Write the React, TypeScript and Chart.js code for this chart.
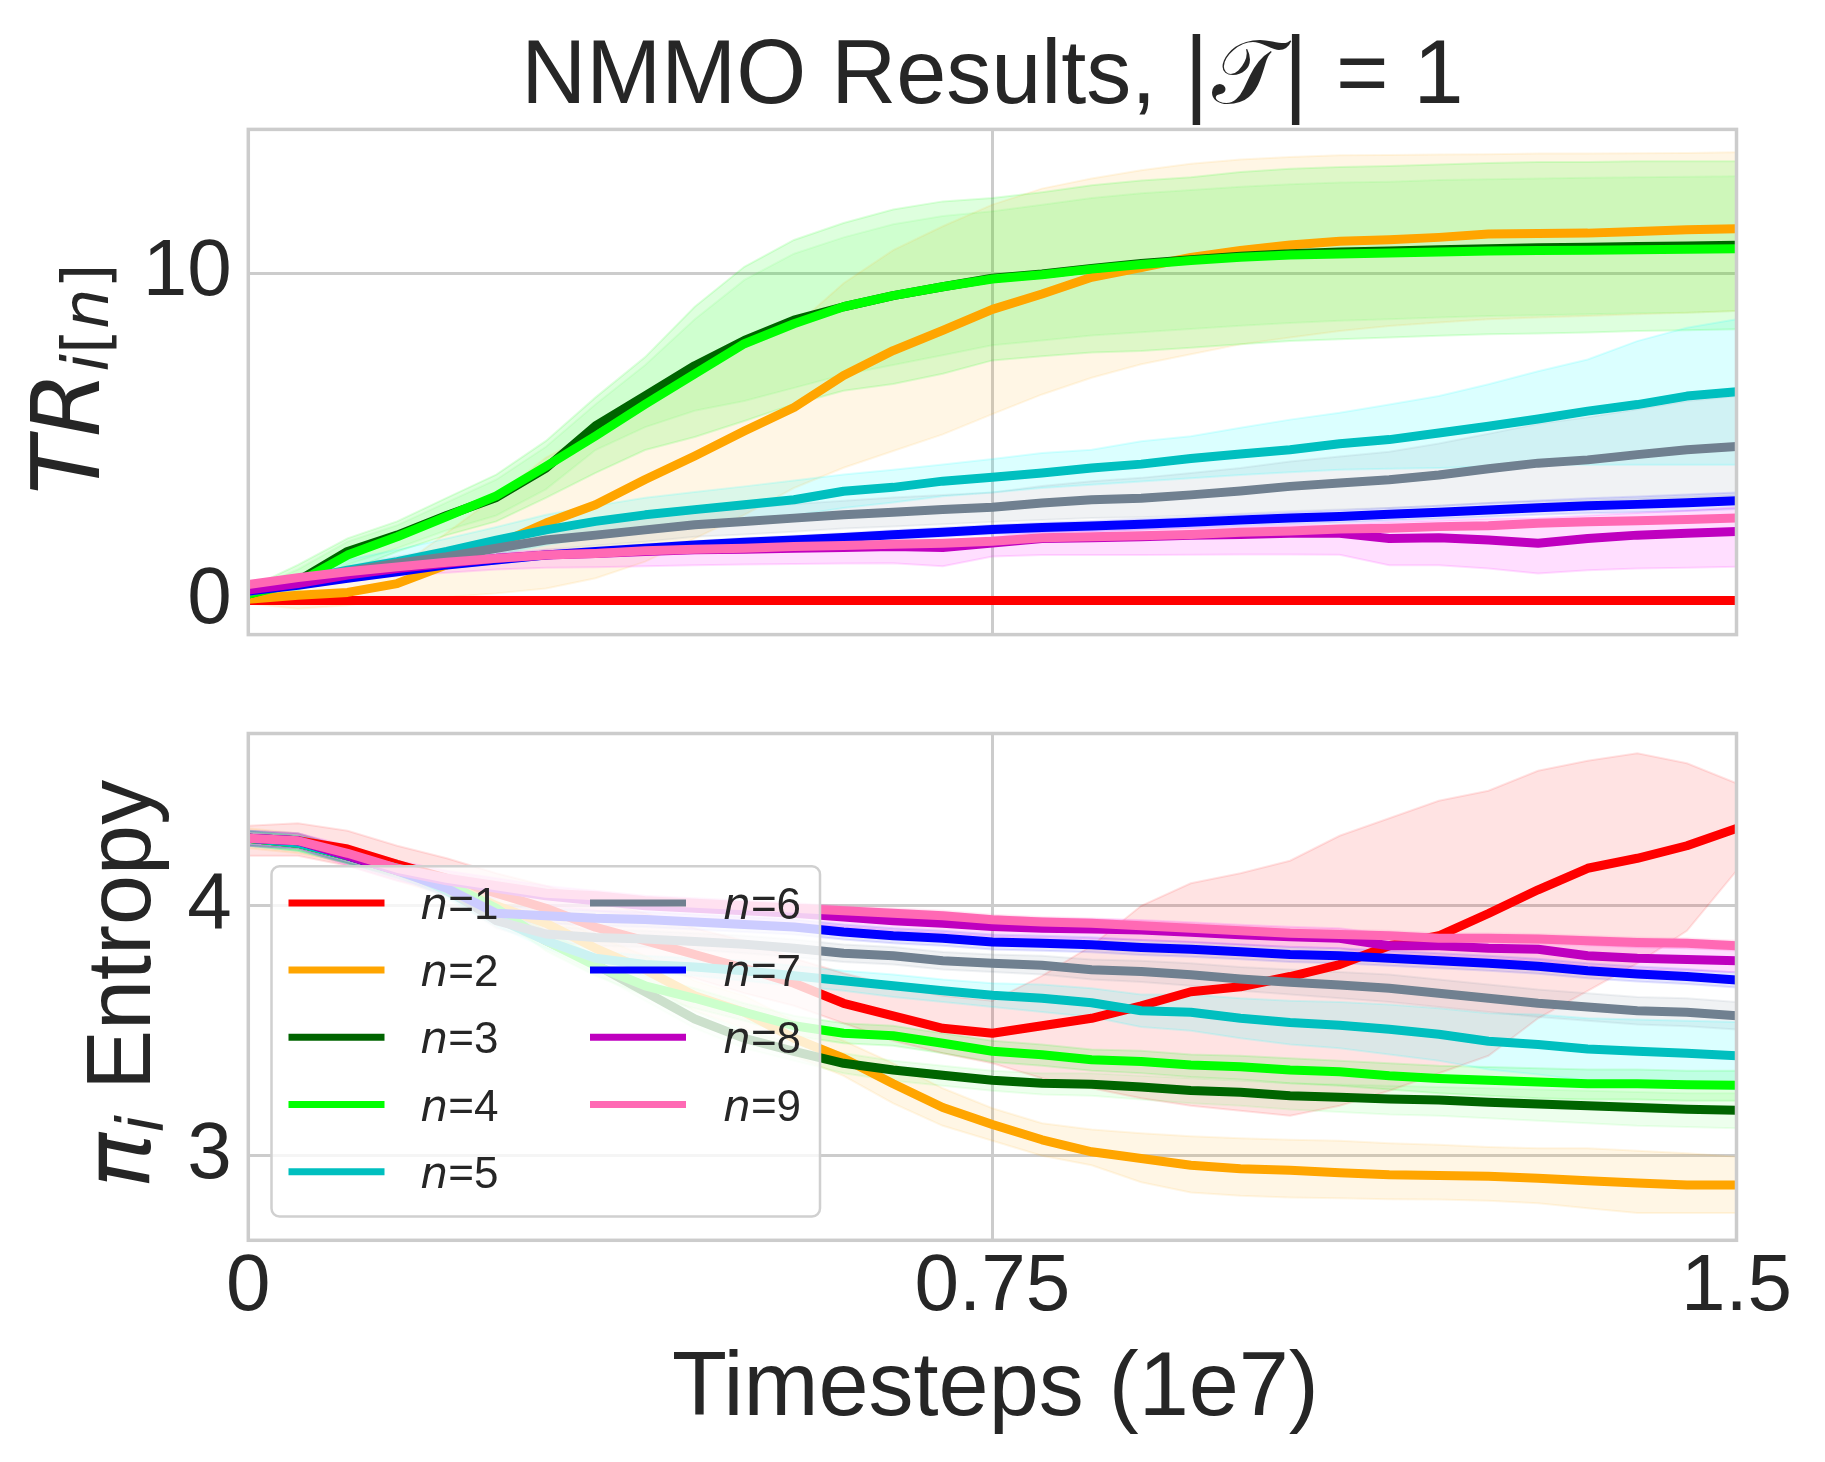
import React, { useEffect, useRef } from "react";
import { Chart, registerables } from "chart.js";

Chart.register(...registerables);

// ---------------- data ----------------
const timesteps = [0, 0.05, 0.1, 0.15, 0.2, 0.25, 0.3, 0.35, 0.4, 0.45, 0.5, 0.55, 0.6, 0.65, 0.7, 0.75, 0.8, 0.85, 0.9, 0.95, 1.0, 1.05, 1.1, 1.15, 1.2, 1.25, 1.3, 1.35, 1.4, 1.45, 1.5];
const seriesNames = ["n=1", "n=2", "n=3", "n=4", "n=5", "n=6", "n=7", "n=8", "n=9"];
const xTicks = [0, 0.75, 1.5];
const xTickLabels = ["0", "0.75", "1.5"];
const trTicks = [0, 10];
const trTickLabels = ["0", "10"];
const entTicks = [3, 4];
const entTickLabels = ["3", "4"];

// Top panel: task reward TR_i[n]
const tr1 = [0, 0, 0, 0, 0, 0, 0, 0, 0, 0, 0, 0, 0, 0, 0, 0, 0, 0, 0, 0, 0, 0, 0, 0, 0, 0, 0, 0, 0, 0, 0];
const tr2 = [0.04, 0.16, 0.25, 0.52, 1.09, 1.7, 2.37, 2.93, 3.7, 4.42, 5.18, 5.9, 6.88, 7.64, 8.26, 8.9, 9.37, 9.88, 10.18, 10.49, 10.7, 10.87, 10.98, 11.03, 11.1, 11.2, 11.22, 11.23, 11.28, 11.33, 11.36];
const tr3 = [0.2, 0.6, 1.5, 2.0, 2.6, 3.15, 4.05, 5.34, 6.26, 7.18, 7.95, 8.57, 8.98, 9.32, 9.59, 9.85, 9.98, 10.15, 10.3, 10.42, 10.52, 10.6, 10.65, 10.68, 10.72, 10.75, 10.78, 10.8, 10.82, 10.84, 10.86];
const tr4 = [0.2, 0.55, 1.39, 1.95, 2.57, 3.2, 4.1, 5.03, 6.0, 6.93, 7.85, 8.46, 8.98, 9.32, 9.59, 9.83, 9.96, 10.13, 10.27, 10.39, 10.49, 10.56, 10.59, 10.62, 10.65, 10.68, 10.7, 10.71, 10.72, 10.74, 10.75];
const tr5 = [0.3, 0.62, 0.93, 1.19, 1.5, 1.85, 2.16, 2.42, 2.62, 2.78, 2.93, 3.08, 3.34, 3.46, 3.65, 3.77, 3.9, 4.05, 4.17, 4.34, 4.48, 4.61, 4.79, 4.92, 5.12, 5.33, 5.55, 5.79, 5.99, 6.25, 6.38];
const tr6 = [0.27, 0.57, 0.88, 1.14, 1.34, 1.6, 1.85, 2.0, 2.16, 2.32, 2.42, 2.52, 2.62, 2.7, 2.78, 2.85, 2.98, 3.08, 3.13, 3.23, 3.35, 3.49, 3.59, 3.69, 3.84, 4.03, 4.2, 4.3, 4.46, 4.61, 4.71];
const tr7 = [0.29, 0.47, 0.68, 0.88, 1.09, 1.24, 1.39, 1.5, 1.6, 1.7, 1.78, 1.85, 1.93, 2.01, 2.09, 2.17, 2.23, 2.28, 2.33, 2.39, 2.46, 2.52, 2.57, 2.64, 2.7, 2.77, 2.84, 2.9, 2.94, 2.99, 3.05];
const tr8 = [0.32, 0.52, 0.78, 0.98, 1.14, 1.29, 1.39, 1.44, 1.5, 1.55, 1.57, 1.6, 1.62, 1.65, 1.62, 1.76, 1.9, 1.92, 1.95, 2.0, 2.02, 2.06, 2.06, 1.9, 1.92, 1.85, 1.75, 1.9, 2.0, 2.06, 2.11];
const tr9 = [0.49, 0.7, 0.88, 1.03, 1.17, 1.29, 1.39, 1.44, 1.52, 1.57, 1.6, 1.65, 1.68, 1.72, 1.75, 1.81, 1.92, 1.95, 1.98, 2.02, 2.09, 2.13, 2.19, 2.21, 2.26, 2.29, 2.36, 2.41, 2.44, 2.48, 2.52];

const tr2Upper = [0.17, 0.57, 0.64, 0.98, 2.07, 3.18, 4.37, 5.18, 6.21, 6.94, 7.74, 8.36, 9.7, 10.71, 11.44, 12.1, 12.59, 12.9, 13.15, 13.35, 13.48, 13.56, 13.61, 13.62, 13.63, 13.64, 13.66, 13.66, 13.67, 13.68, 13.7];
const tr2Lower = [-0.09, -0.25, -0.14, 0.06, 0.11, 0.22, 0.37, 0.68, 1.19, 1.9, 2.62, 3.44, 4.06, 4.57, 5.08, 5.7, 6.3, 6.81, 7.22, 7.53, 7.83, 8.04, 8.24, 8.39, 8.5, 8.6, 8.65, 8.7, 8.75, 8.8, 8.85];
const tr3Upper = [0.3, 0.95, 1.8, 2.3, 3.0, 3.7, 4.7, 6.0, 7.2, 8.6, 9.8, 10.6, 11.1, 11.5, 11.75, 11.9, 12.1, 12.3, 12.45, 12.55, 12.65, 12.72, 12.78, 12.8, 12.85, 12.88, 12.9, 12.92, 12.94, 12.95, 12.97];
const tr3Lower = [0.1, 0.35, 1.1, 1.6, 2.15, 2.6, 3.4, 4.6, 5.3, 5.8, 6.1, 6.5, 6.9, 7.2, 7.5, 7.8, 7.95, 8.1, 8.2, 8.3, 8.4, 8.48, 8.55, 8.6, 8.65, 8.7, 8.72, 8.75, 8.78, 8.8, 8.85];
const tr4Upper = [0.37, 1.09, 1.9, 2.42, 3.14, 3.85, 4.88, 6.21, 7.44, 8.98, 10.2, 11.02, 11.54, 11.95, 12.2, 12.3, 12.48, 12.69, 12.84, 12.94, 13.1, 13.2, 13.25, 13.28, 13.33, 13.37, 13.4, 13.4, 13.43, 13.43, 13.43];
const tr4Lower = [0.1, 0.3, 0.9, 1.5, 2.0, 2.42, 3.14, 3.9, 4.6, 5.0, 5.49, 6.0, 6.41, 6.62, 6.93, 7.34, 7.47, 7.58, 7.63, 7.73, 7.83, 7.93, 7.99, 8.04, 8.09, 8.14, 8.16, 8.19, 8.24, 8.26, 8.29];
const tr5Upper = [0.5, 0.8, 1.25, 1.55, 1.9, 2.25, 2.62, 2.9, 3.14, 3.32, 3.49, 3.67, 3.85, 4.0, 4.16, 4.33, 4.51, 4.61, 4.87, 5.02, 5.28, 5.53, 5.74, 5.99, 6.25, 6.61, 7.01, 7.37, 7.93, 8.34, 8.6];
const tr5Lower = [0.15, 0.4, 0.6, 0.85, 1.09, 1.4, 1.7, 1.95, 2.11, 2.26, 2.42, 2.6, 2.83, 3.0, 3.19, 3.3, 3.44, 3.54, 3.64, 3.74, 3.84, 3.92, 4.0, 4.03, 4.05, 4.1, 4.15, 4.15, 4.15, 4.15, 4.15];
const tr6Upper = [0.35, 0.7, 1.05, 1.35, 1.6, 1.9, 2.15, 2.35, 2.55, 2.7, 2.82, 2.95, 3.05, 3.15, 3.23, 3.3, 3.5, 3.65, 3.75, 3.9, 4.05, 4.25, 4.4, 4.55, 4.8, 5.1, 5.4, 5.6, 5.85, 6.1, 6.25];
const tr6Lower = [0.2, 0.45, 0.72, 0.95, 1.1, 1.32, 1.55, 1.68, 1.8, 1.95, 2.02, 2.1, 2.2, 2.26, 2.33, 2.4, 2.46, 2.52, 2.55, 2.6, 2.65, 2.73, 2.78, 2.83, 2.9, 2.98, 3.02, 3.05, 3.1, 3.15, 3.2];
const tr7Upper = [0.36, 0.56, 0.78, 0.98, 1.19, 1.35, 1.5, 1.62, 1.72, 1.82, 1.91, 1.98, 2.06, 2.15, 2.23, 2.31, 2.38, 2.43, 2.49, 2.55, 2.63, 2.7, 2.76, 2.83, 2.9, 2.98, 3.06, 3.13, 3.18, 3.24, 3.3];
const tr7Lower = [0.22, 0.38, 0.58, 0.78, 0.99, 1.13, 1.28, 1.38, 1.48, 1.58, 1.65, 1.72, 1.8, 1.87, 1.95, 2.03, 2.08, 2.13, 2.17, 2.23, 2.29, 2.34, 2.38, 2.45, 2.5, 2.56, 2.62, 2.67, 2.7, 2.74, 2.8];
const tr8Upper = [0.4, 0.62, 0.9, 1.12, 1.3, 1.45, 1.55, 1.6, 1.65, 1.7, 1.72, 1.75, 1.78, 1.8, 1.82, 1.95, 2.1, 2.13, 2.17, 2.22, 2.25, 2.3, 2.32, 2.4, 2.45, 2.5, 2.52, 2.6, 2.68, 2.75, 2.85];
const tr8Lower = [0.25, 0.4, 0.6, 0.75, 0.85, 0.95, 1.0, 1.02, 1.05, 1.08, 1.1, 1.12, 1.13, 1.14, 1.05, 1.35, 1.39, 1.39, 1.39, 1.4, 1.41, 1.41, 1.4, 1.08, 1.08, 0.98, 0.83, 0.93, 0.98, 1.0, 1.03];
const tr9Upper = [0.57, 0.78, 0.96, 1.11, 1.25, 1.37, 1.47, 1.52, 1.6, 1.65, 1.68, 1.73, 1.76, 1.8, 1.83, 1.89, 2.0, 2.03, 2.06, 2.1, 2.17, 2.21, 2.27, 2.29, 2.34, 2.37, 2.44, 2.49, 2.52, 2.56, 2.6];
const tr9Lower = [0.41, 0.62, 0.8, 0.95, 1.09, 1.21, 1.31, 1.36, 1.44, 1.49, 1.52, 1.57, 1.6, 1.64, 1.67, 1.73, 1.84, 1.87, 1.9, 1.94, 2.01, 2.05, 2.11, 2.13, 2.18, 2.21, 2.28, 2.33, 2.36, 2.4, 2.44];

// Bottom panel: policy entropy
const ent1 = [4.27, 4.26, 4.227, 4.166, 4.11, 4.05, 3.99, 3.914, 3.86, 3.805, 3.75, 3.69, 3.61, 3.56, 3.51, 3.49, 3.52, 3.55, 3.6, 3.656, 3.676, 3.717, 3.765, 3.84, 3.88, 3.969, 4.064, 4.15, 4.19, 4.24, 4.309];
const ent2 = [4.27, 4.25, 4.2, 4.15, 4.09, 4.0, 3.93, 3.83, 3.744, 3.64, 3.574, 3.47, 3.39, 3.288, 3.193, 3.125, 3.064, 3.016, 2.989, 2.962, 2.948, 2.942, 2.932, 2.924, 2.921, 2.918, 2.91, 2.9, 2.891, 2.883, 2.883];
const ent3 = [4.27, 4.25, 4.2, 4.14, 4.08, 3.97, 3.86, 3.765, 3.656, 3.547, 3.47, 3.418, 3.37, 3.343, 3.322, 3.302, 3.29, 3.286, 3.275, 3.261, 3.254, 3.24, 3.234, 3.227, 3.223, 3.214, 3.207, 3.2, 3.193, 3.186, 3.182];
const ent4 = [4.27, 4.25, 4.2, 4.15, 4.09, 3.99, 3.86, 3.76, 3.68, 3.63, 3.574, 3.52, 3.49, 3.48, 3.45, 3.418, 3.404, 3.384, 3.377, 3.363, 3.356, 3.343, 3.336, 3.32, 3.309, 3.302, 3.295, 3.288, 3.288, 3.284, 3.282];
const ent5 = [4.27, 4.25, 4.2, 4.15, 4.06, 3.95, 3.86, 3.79, 3.765, 3.755, 3.74, 3.72, 3.7, 3.68, 3.66, 3.642, 3.63, 3.612, 3.58, 3.574, 3.55, 3.533, 3.522, 3.506, 3.486, 3.458, 3.445, 3.427, 3.418, 3.41, 3.4];
const ent6 = [4.27, 4.26, 4.2, 4.15, 4.07, 3.94, 3.887, 3.873, 3.867, 3.857, 3.846, 3.83, 3.81, 3.8, 3.78, 3.77, 3.762, 3.744, 3.737, 3.724, 3.707, 3.694, 3.683, 3.67, 3.65, 3.63, 3.61, 3.595, 3.58, 3.574, 3.56];
const ent7 = [4.27, 4.26, 4.2, 4.14, 4.07, 3.97, 3.96, 3.95, 3.945, 3.935, 3.925, 3.915, 3.895, 3.88, 3.87, 3.855, 3.85, 3.844, 3.833, 3.826, 3.816, 3.805, 3.8, 3.79, 3.78, 3.77, 3.758, 3.74, 3.727, 3.717, 3.703];
const ent8 = [4.27, 4.26, 4.2, 4.14, 4.1, 4.07, 4.04, 4.02, 4.0, 3.99, 3.98, 3.97, 3.955, 3.94, 3.93, 3.917, 3.91, 3.907, 3.903, 3.894, 3.884, 3.876, 3.87, 3.84, 3.84, 3.83, 3.826, 3.8, 3.79, 3.785, 3.78];
const ent9 = [4.27, 4.26, 4.21, 4.15, 4.11, 4.08, 4.05, 4.04, 4.02, 4.01, 4.0, 3.99, 3.98, 3.97, 3.96, 3.944, 3.935, 3.93, 3.92, 3.91, 3.9, 3.89, 3.885, 3.88, 3.87, 3.87, 3.867, 3.86, 3.853, 3.85, 3.84];

const ent1Upper = [4.32, 4.33, 4.3, 4.24, 4.19, 4.13, 4.08, 4.02, 3.97, 3.91, 3.86, 3.79, 3.73, 3.68, 3.64, 3.62, 3.72, 3.84, 4.0, 4.09, 4.13, 4.18, 4.28, 4.35, 4.42, 4.46, 4.54, 4.58, 4.61, 4.57, 4.49];
const ent1Lower = [4.2, 4.2, 4.16, 4.1, 4.04, 3.97, 3.9, 3.82, 3.76, 3.71, 3.65, 3.6, 3.53, 3.46, 3.41, 3.37, 3.31, 3.27, 3.23, 3.2, 3.18, 3.16, 3.2, 3.26, 3.33, 3.4, 3.55, 3.66, 3.77, 3.9, 4.14];
const ent2Upper = [4.31, 4.29, 4.23, 4.18, 4.12, 4.04, 3.97, 3.88, 3.8, 3.7, 3.64, 3.54, 3.46, 3.37, 3.27, 3.19, 3.13, 3.105, 3.09, 3.078, 3.07, 3.064, 3.06, 3.05, 3.044, 3.035, 3.03, 3.03, 3.02, 3.01, 2.996];
const ent2Lower = [4.23, 4.21, 4.17, 4.12, 4.06, 3.96, 3.89, 3.78, 3.69, 3.58, 3.51, 3.4, 3.32, 3.21, 3.12, 3.06, 3.0, 2.962, 2.894, 2.853, 2.84, 2.833, 2.83, 2.826, 2.825, 2.82, 2.81, 2.79, 2.771, 2.771, 2.771];
const ent3Upper = [4.3, 4.28, 4.23, 4.17, 4.11, 4.0, 3.89, 3.8, 3.69, 3.58, 3.5, 3.45, 3.41, 3.38, 3.36, 3.34, 3.33, 3.33, 3.32, 3.31, 3.3, 3.29, 3.285, 3.28, 3.275, 3.27, 3.265, 3.26, 3.255, 3.25, 3.25];
const ent3Lower = [4.24, 4.22, 4.17, 4.11, 4.05, 3.94, 3.83, 3.73, 3.62, 3.51, 3.43, 3.38, 3.33, 3.3, 3.28, 3.26, 3.245, 3.24, 3.225, 3.21, 3.2, 3.185, 3.175, 3.165, 3.16, 3.15, 3.14, 3.13, 3.12, 3.115, 3.11];
const ent4Upper = [4.3, 4.28, 4.23, 4.18, 4.12, 4.02, 3.9, 3.8, 3.72, 3.67, 3.61, 3.56, 3.53, 3.52, 3.49, 3.46, 3.445, 3.425, 3.42, 3.405, 3.4, 3.39, 3.38, 3.37, 3.36, 3.355, 3.35, 3.345, 3.345, 3.34, 3.34];
const ent4Lower = [4.24, 4.22, 4.17, 4.12, 4.06, 3.96, 3.82, 3.72, 3.64, 3.59, 3.54, 3.48, 3.45, 3.44, 3.41, 3.375, 3.36, 3.34, 3.33, 3.315, 3.305, 3.29, 3.28, 3.265, 3.25, 3.24, 3.23, 3.225, 3.225, 3.22, 3.22];
const ent5Upper = [4.3, 4.28, 4.23, 4.18, 4.09, 3.98, 3.89, 3.82, 3.8, 3.79, 3.78, 3.76, 3.74, 3.725, 3.705, 3.69, 3.685, 3.67, 3.645, 3.645, 3.63, 3.62, 3.615, 3.605, 3.59, 3.57, 3.565, 3.55, 3.545, 3.54, 3.535];
const ent5Lower = [4.24, 4.22, 4.17, 4.12, 4.03, 3.92, 3.83, 3.76, 3.73, 3.72, 3.7, 3.68, 3.66, 3.635, 3.615, 3.595, 3.575, 3.555, 3.515, 3.5, 3.47, 3.445, 3.43, 3.405, 3.38, 3.345, 3.325, 3.3, 3.29, 3.28, 3.265];
const ent6Upper = [4.3, 4.29, 4.23, 4.18, 4.1, 3.97, 3.92, 3.905, 3.9, 3.89, 3.88, 3.865, 3.845, 3.835, 3.815, 3.805, 3.8, 3.785, 3.78, 3.77, 3.755, 3.745, 3.735, 3.725, 3.705, 3.685, 3.665, 3.65, 3.635, 3.63, 3.615];
const ent6Lower = [4.24, 4.23, 4.17, 4.12, 4.04, 3.91, 3.855, 3.84, 3.835, 3.825, 3.81, 3.795, 3.775, 3.765, 3.745, 3.735, 3.725, 3.705, 3.695, 3.68, 3.66, 3.645, 3.63, 3.615, 3.595, 3.575, 3.555, 3.54, 3.525, 3.518, 3.505];
const ent7Upper = [4.3, 4.29, 4.23, 4.17, 4.1, 4.0, 3.99, 3.98, 3.975, 3.965, 3.955, 3.945, 3.925, 3.91, 3.9, 3.885, 3.88, 3.874, 3.863, 3.856, 3.846, 3.835, 3.83, 3.82, 3.81, 3.8, 3.788, 3.77, 3.757, 3.747, 3.733];
const ent7Lower = [4.24, 4.23, 4.17, 4.11, 4.04, 3.94, 3.93, 3.92, 3.915, 3.905, 3.895, 3.885, 3.865, 3.85, 3.84, 3.825, 3.82, 3.814, 3.803, 3.796, 3.786, 3.775, 3.77, 3.76, 3.75, 3.74, 3.728, 3.71, 3.697, 3.687, 3.673];
const ent8Upper = [4.3, 4.29, 4.24, 4.18, 4.14, 4.11, 4.08, 4.06, 4.04, 4.03, 4.02, 4.01, 3.995, 3.98, 3.97, 3.957, 3.95, 3.947, 3.943, 3.934, 3.924, 3.916, 3.91, 3.885, 3.885, 3.875, 3.871, 3.845, 3.835, 3.83, 3.825];
const ent8Lower = [4.24, 4.23, 4.16, 4.1, 4.06, 4.03, 4.0, 3.98, 3.96, 3.95, 3.94, 3.93, 3.915, 3.9, 3.89, 3.877, 3.87, 3.867, 3.863, 3.854, 3.844, 3.836, 3.83, 3.795, 3.795, 3.785, 3.781, 3.755, 3.745, 3.74, 3.735];
const ent9Upper = [4.29, 4.28, 4.23, 4.17, 4.13, 4.1, 4.07, 4.06, 4.04, 4.03, 4.02, 4.01, 4.0, 3.99, 3.98, 3.964, 3.955, 3.95, 3.94, 3.93, 3.92, 3.91, 3.905, 3.9, 3.89, 3.89, 3.887, 3.88, 3.873, 3.87, 3.86];
const ent9Lower = [4.25, 4.24, 4.19, 4.13, 4.09, 4.06, 4.03, 4.02, 4.0, 3.99, 3.98, 3.97, 3.96, 3.95, 3.94, 3.924, 3.915, 3.91, 3.9, 3.89, 3.88, 3.87, 3.865, 3.86, 3.85, 3.85, 3.847, 3.84, 3.833, 3.83, 3.82];

// ---------------- style ----------------
const LINE_COLORS = ["#ff0000", "#ffa500", "#006400", "#00ff00", "#00bfbf", "#708090", "#0000ff", "#bf00bf", "#ff69b4"];
const BAND_COLORS = [
  "rgba(255,0,0,0.11)",
  "rgba(255,165,0,0.10)",
  "rgba(0,255,0,0.07)",
  "rgba(0,255,0,0.13)",
  "rgba(0,255,255,0.14)",
  "rgba(112,128,144,0.10)",
  "rgba(0,0,255,0.10)",
  "rgba(255,0,255,0.13)",
  "rgba(255,105,180,0.12)",
];
const FONT = "'Liberation Sans', Arial, sans-serif";
const MATH = "'DejaVu Sans', sans-serif";
const TEXT = "#262626";
const GRID = "#cccccc";
const LINE_W = 9;

const W = 1825;
const TOP_H = 690;
const BOT_H = 772;
const AREA_LEFT = 248.3;
const AREA_RIGHT = 1736.5;

function pts(arr: number[]) {
  return arr.map((y, i) => ({ x: timesteps[i], y }));
}

function buildDatasets(means: number[][], uppers: (number[] | null)[], lowers: (number[] | null)[]) {
  const ds: any[] = [];
  means.forEach((_m, i) => {
    const up = uppers[i];
    const lo = lowers[i];
    if (up && lo) {
      ds.push({
        data: pts(up), fill: "+1", backgroundColor: BAND_COLORS[i], borderColor: BAND_COLORS[i],
        borderWidth: 2, pointRadius: 0, order: 200 - i, isBand: true,
      });
      ds.push({
        data: pts(lo), fill: false, backgroundColor: BAND_COLORS[i], borderColor: BAND_COLORS[i],
        borderWidth: 2, pointRadius: 0, order: 200 - i, isBand: true,
      });
    }
  });
  means.forEach((m, i) => {
    ds.push({
      label: seriesNames[i], data: pts(m), borderColor: LINE_COLORS[i], backgroundColor: LINE_COLORS[i],
      borderWidth: LINE_W, pointRadius: 0, fill: false, order: 20 - i, isSeries: true,
      borderJoinStyle: "round",
    });
  });
  return ds;
}

function drawRuns(ctx: CanvasRenderingContext2D, runs: { text: string; font: string; dy?: number }[], cx: number, y: number) {
  let total = 0;
  for (const r of runs) {
    ctx.font = r.font;
    total += ctx.measureText(r.text).width;
  }
  let x = cx - total / 2;
  ctx.textAlign = "left";
  ctx.textBaseline = "alphabetic";
  for (const r of runs) {
    ctx.font = r.font;
    ctx.fillText(r.text, x, y + (r.dy || 0));
    x += ctx.measureText(r.text).width;
  }
}

const framePlugin = {
  id: "frame",
  afterDatasetsDraw(chart: any) {
    const { ctx, chartArea: a } = chart;
    ctx.save();
    ctx.strokeStyle = GRID;
    ctx.lineWidth = 3.5;
    ctx.strokeRect(a.left, a.top, a.right - a.left, a.bottom - a.top);
    ctx.restore();
  },
};

const topTextPlugin = {
  id: "topText",
  afterDraw(chart: any) {
    const { ctx, chartArea: a } = chart;
    ctx.save();
    ctx.fillStyle = TEXT;
    drawRuns(ctx, [
      { text: "NMMO Results, ", font: `90px ${FONT}` },
      { text: "|", font: `90px ${MATH}` },
      { text: "\u{1D4AF}", font: `90px ${MATH}` },
      { text: "|", font: `90px ${MATH}` },
      { text: " = 1", font: `90px ${FONT}` },
    ], (a.left + a.right) / 2, 103);
    ctx.translate(99, 379);
    ctx.rotate(-Math.PI / 2);
    drawRuns(ctx, [
      { text: "TR", font: `italic 94px ${MATH}` },
      { text: "i", font: `italic 64px ${MATH}`, dy: 9 },
      { text: "[", font: `64px ${MATH}`, dy: 9 },
      { text: "n", font: `italic 64px ${MATH}`, dy: 9 },
      { text: "]", font: `64px ${MATH}`, dy: 9 },
    ], 0, 0);
    ctx.restore();
  },
};

const bottomTextPlugin = {
  id: "bottomText",
  afterDraw(chart: any) {
    const { ctx, chartArea: a } = chart;
    ctx.save();
    ctx.fillStyle = TEXT;
    drawRuns(ctx, [{ text: "Timesteps (1e7)", font: `90px ${FONT}` }], (a.left + a.right) / 2 + 3, 725);
    ctx.translate(150, 294);
    ctx.rotate(-Math.PI / 2);
    drawRuns(ctx, [
      { text: "\u03C0", font: `italic 92px ${MATH}` },
      { text: "i", font: `italic 64px ${MATH}`, dy: 13 },
      { text: " Entropy", font: `90px ${FONT}` },
    ], 0, 0);
    ctx.restore();
  },
};

const legendPlugin = {
  id: "cornerLegend",
  afterDraw(chart: any) {
    const { ctx, chartArea: a } = chart;
    const series = chart.data.datasets.filter((d: any) => d.isSeries);
    const boxX = a.left + 23.2;
    const boxY = a.top + 132.7;
    const boxW = 548.5;
    const boxH = 350.3;
    ctx.save();
    ctx.beginPath();
    ctx.roundRect(boxX, boxY, boxW, boxH, 8);
    ctx.fillStyle = "rgba(255,255,255,0.8)";
    ctx.fill();
    ctx.strokeStyle = "#d0d0d0";
    ctx.lineWidth = 2.5;
    ctx.stroke();
    const rows = 5;
    series.forEach((d: any, i: number) => {
      const col = Math.floor(i / rows);
      const row = i % rows;
      const cy = a.top + 169.4 + row * 67.2;
      const hx = a.left + 40.2 + col * 301.5;
      ctx.strokeStyle = d.borderColor;
      ctx.lineWidth = 7;
      ctx.lineCap = "butt";
      ctx.beginPath();
      ctx.moveTo(hx, cy);
      ctx.lineTo(hx + 96, cy);
      ctx.stroke();
      const tx = a.left + 172 + col * 302.7;
      const parts = String(d.label).split("=");
      ctx.fillStyle = TEXT;
      ctx.textAlign = "left";
      ctx.textBaseline = "alphabetic";
      ctx.font = `italic 44px ${MATH}`;
      ctx.fillText(parts[0], tx, cy + 16);
      const w = ctx.measureText(parts[0]).width;
      ctx.font = `44px ${FONT}`;
      ctx.fillText("=" + parts[1], tx + w, cy + 16);
    });
    ctx.restore();
  },
};

function xScale(showLabels: boolean, height: number) {
  return {
    type: "linear",
    min: 0,
    max: 1.5,
    afterBuildTicks: (s: any) => { s.ticks = xTicks.map((v) => ({ value: v })); },
    ticks: {
      display: showLabels,
      font: { family: FONT, size: 80 },
      color: TEXT,
      padding: 0,
      maxRotation: 0,
      autoSkip: false,
      callback: (_v: any, i: number) => xTickLabels[i],
    },
    grid: { color: GRID, lineWidth: 3, drawTicks: false },
    border: { display: false },
    afterFit: (s: any) => { s.height = height; s.paddingLeft = 0; s.paddingRight = 0; },
  };
}

function yScale(min: number, max: number, ticks: number[], labels: string[]) {
  return {
    type: "linear",
    min,
    max,
    afterBuildTicks: (s: any) => { s.ticks = ticks.map((v) => ({ value: v })); },
    ticks: {
      font: { family: FONT, size: 80 },
      color: TEXT,
      padding: 16.6,
      autoSkip: false,
      callback: (_v: any, i: number) => labels[i],
    },
    grid: { color: GRID, lineWidth: 3, drawTicks: false },
    border: { display: false },
    afterFit: (s: any) => { s.width = AREA_LEFT; s.paddingTop = 0; s.paddingBottom = 0; },
  };
}

function baseOptions(padTop: number) {
  return {
    responsive: false,
    maintainAspectRatio: false,
    animation: false,
    events: [],
    layout: { padding: { left: 0, right: W - AREA_RIGHT, top: padTop, bottom: 0 } },
    plugins: {
      legend: { display: false },
      title: { display: false },
      tooltip: { enabled: false },
      filler: { drawTime: "beforeDatasetsDraw" },
    },
  };
}

export default function App() {
  const topRef = useRef<HTMLCanvasElement>(null);
  const botRef = useRef<HTMLCanvasElement>(null);

  useEffect(() => {
    document.body.style.margin = "0";
    const topChart = new Chart(topRef.current as HTMLCanvasElement, {
      type: "line",
      data: {
        datasets: buildDatasets(
          [tr1, tr2, tr3, tr4, tr5, tr6, tr7, tr8, tr9],
          [null, tr2Upper, tr3Upper, tr4Upper, tr5Upper, tr6Upper, tr7Upper, tr8Upper, tr9Upper],
          [null, tr2Lower, tr3Lower, tr4Lower, tr5Lower, tr6Lower, tr7Lower, tr8Lower, tr9Lower],
        ),
      },
      options: {
        ...baseOptions(129.4),
        scales: {
          x: xScale(false, TOP_H - 634.6),
          y: yScale(-1.04, 14.4, trTicks, trTickLabels),
        },
      } as any,
      plugins: [framePlugin, topTextPlugin],
    });
    const botChart = new Chart(botRef.current as HTMLCanvasElement, {
      type: "line",
      data: {
        datasets: buildDatasets(
          [ent1, ent2, ent3, ent4, ent5, ent6, ent7, ent8, ent9],
          [ent1Upper, ent2Upper, ent3Upper, ent4Upper, ent5Upper, ent6Upper, ent7Upper, ent8Upper, ent9Upper],
          [ent1Lower, ent2Lower, ent3Lower, ent4Lower, ent5Lower, ent6Lower, ent7Lower, ent8Lower, ent9Lower],
        ),
      },
      options: {
        ...baseOptions(733.5 - TOP_H),
        scales: {
          x: xScale(true, BOT_H - (1240.3 - TOP_H)),
          y: yScale(2.662, 4.689, entTicks, entTickLabels),
        },
      } as any,
      plugins: [framePlugin, bottomTextPlugin, legendPlugin],
    });
    return () => {
      topChart.destroy();
      botChart.destroy();
    };
  }, []);

  return (
    <div style={{ position: "relative", width: W, height: TOP_H + BOT_H, background: "#ffffff" }}>
      <canvas ref={topRef} width={W} height={TOP_H} style={{ position: "absolute", left: 0, top: 0, width: W, height: TOP_H }} />
      <canvas ref={botRef} width={W} height={BOT_H} style={{ position: "absolute", left: 0, top: TOP_H, width: W, height: BOT_H }} />
    </div>
  );
}
